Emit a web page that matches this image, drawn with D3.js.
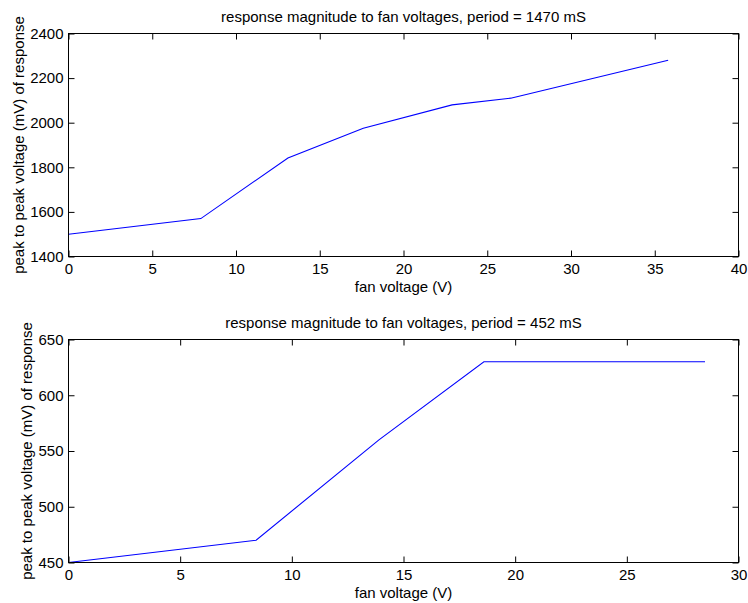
<!DOCTYPE html>
<html>
<head>
<meta charset="utf-8">
<script src="https://cdn.jsdelivr.net/npm/d3@7"></script>
<style>
  html, body { margin: 0; padding: 0; background: #fff; }
  svg { display: block; }
  text { font-family: "Liberation Sans", Arial, Helvetica, sans-serif; fill: #000; }
</style>
</head>
<body>
<svg id="chart" width="748" height="603"></svg>
<script>
// ---- data ----
const topTitle = "response magnitude to fan voltages, period = 1470 mS";
const topVoltage = [0, 7.9, 13.1, 17.6, 22.9, 26.4, 35.8];
const topResponse = [1500, 1570, 1842, 1975, 2080, 2110, 2280];
const topXTicks = [0, 5, 10, 15, 20, 25, 30, 35, 40];
const topYTicks = [1400, 1600, 1800, 2000, 2200, 2400];

const botTitle = "response magnitude to fan voltages, period = 452 mS";
const botVoltage = [0, 8.4, 13.9, 18.6, 28.5];
const botResponse = [450, 470, 560, 630, 630];
const botXTicks = [0, 5, 10, 15, 20, 25, 30];
const botYTicks = [450, 500, 550, 600, 650];

const xLabel = "fan voltage (V)";
const yLabel = "peak to peak voltage (mV) of response";

const svg = d3.select("#chart");
const FS = 15;
const TICK = 6;

function panel(cfg) {
  const { left, right, top, bottom, xs, ys, xTicks, yTicks, title, ylabX } = cfg;
  const x = d3.scaleLinear().domain([xTicks[0], xTicks[xTicks.length - 1]]).range([left, right]);
  const y = d3.scaleLinear().domain([yTicks[0], yTicks[yTicks.length - 1]]).range([bottom, top]);
  const g = svg.append("g");

  // line
  const pts = xs.map((v, i) => [v, ys[i]]);
  g.append("path")
    .datum(pts)
    .attr("fill", "none")
    .attr("stroke", "#0000ff")
    .attr("stroke-width", 1.1)
    .attr("d", d3.line().x(d => x(d[0])).y(d => y(d[1])));

  // axes with inward ticks on all four sides
  const axB = d3.axisBottom(x).tickValues(xTicks).tickSize(-TICK).tickPadding(7).tickFormat(d3.format("d"));
  const axT = d3.axisTop(x).tickValues(xTicks).tickSize(-TICK).tickFormat("");
  const axL = d3.axisLeft(y).tickValues(yTicks).tickSize(-TICK).tickPadding(5).tickFormat(d3.format("d"));
  const axR = d3.axisRight(y).tickValues(yTicks).tickSize(-TICK).tickFormat("");

  const styleAxis = sel => {
    sel.selectAll("path.domain").remove();
    sel.selectAll(".tick line").attr("stroke", "#000").attr("stroke-width", 1);
    sel.selectAll("text").attr("font-size", FS).attr("fill", "#000")
      .attr("font-family", '"Liberation Sans", Arial, sans-serif');
  };
  g.append("g").attr("transform", `translate(0,${bottom})`).call(axB).call(styleAxis);
  g.append("g").attr("transform", `translate(0,${top})`).call(axT).call(styleAxis);
  g.append("g").attr("transform", `translate(${left},0)`).call(axL).call(styleAxis);
  g.append("g").attr("transform", `translate(${right},0)`).call(axR).call(styleAxis);

  // frame
  g.append("rect")
    .attr("x", left).attr("y", top)
    .attr("width", right - left).attr("height", bottom - top)
    .attr("fill", "none").attr("stroke", "#000").attr("stroke-width", 1);

  // title
  g.append("text")
    .attr("x", (left + right) / 2).attr("y", top - 12)
    .attr("text-anchor", "middle").attr("font-size", FS)
    .text(title);
  // x label
  g.append("text")
    .attr("x", (left + right) / 2).attr("y", bottom + 35)
    .attr("text-anchor", "middle").attr("font-size", FS)
    .text(xLabel);
  // y label
  g.append("text")
    .attr("transform", `translate(${ylabX},${(top + bottom) / 2}) rotate(-90)`)
    .attr("text-anchor", "middle").attr("font-size", FS)
    .text(yLabel);
}

panel({ left: 68.5, right: 738.5, top: 33.5, bottom: 256.5,
  xs: topVoltage, ys: topResponse, xTicks: topXTicks, yTicks: topYTicks,
  title: topTitle, ylabX: 24 });
panel({ left: 68.5, right: 738.5, top: 339.5, bottom: 562.5,
  xs: botVoltage, ys: botResponse, xTicks: botXTicks, yTicks: botYTicks,
  title: botTitle, ylabX: 31.5 });
</script>
</body>
</html>
